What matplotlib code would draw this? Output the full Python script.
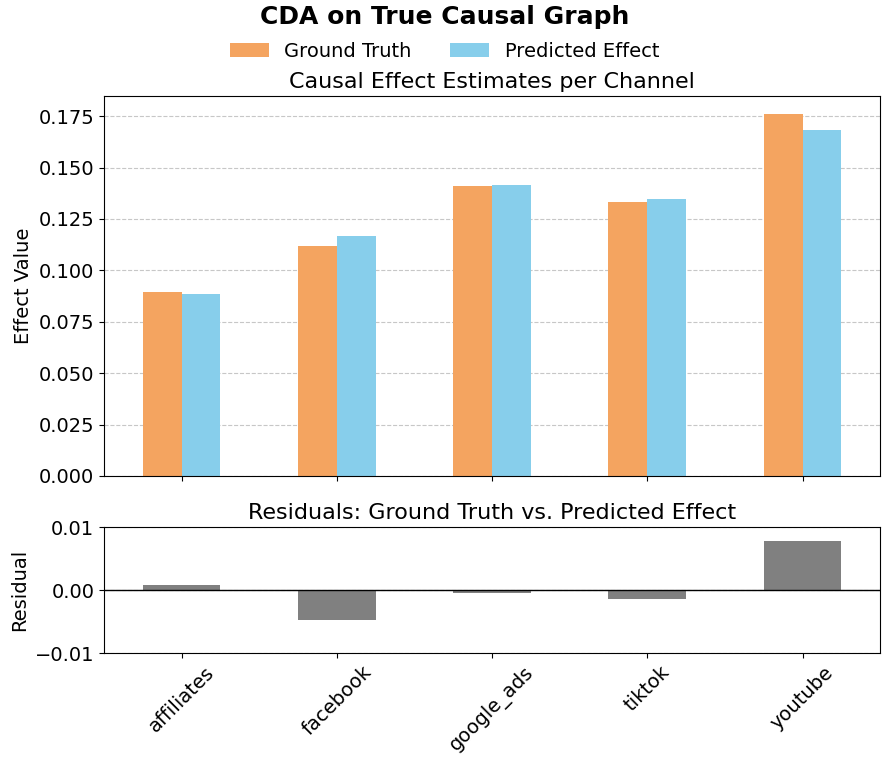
import matplotlib
matplotlib.use("Agg")
import matplotlib.pyplot as plt
import numpy as np

channels = ["affiliates", "facebook", "google_ads", "tiktok", "youtube"]
ground_truth = [0.0894, 0.1118, 0.1410, 0.1332, 0.1760]
predicted = [0.0886, 0.1165, 0.1414, 0.1346, 0.1682]
residuals = [g - p for g, p in zip(ground_truth, predicted)]

c_gt = "#F4A460"
c_pred = "#87CEEB"

fig = plt.figure(figsize=(8.89, 7.65), dpi=100)
ax1 = fig.add_axes([0.117, 0.3778, 0.873, 0.4967])
ax2 = fig.add_axes([0.117, 0.1464, 0.873, 0.1647], sharex=ax1)

x = np.arange(len(channels))
w = 0.25
b1 = ax1.bar(x - w / 2, ground_truth, w, color=c_gt, label="Ground Truth", zorder=2)
b2 = ax1.bar(x + w / 2, predicted, w, color=c_pred, label="Predicted Effect", zorder=2)
ax1.set_xlim(-0.5, len(channels) - 0.5)
ax1.set_ylim(0, max(ground_truth) * 1.05)
ax1.set_yticks(np.arange(0, 0.176, 0.025))
ax1.set_yticklabels([f"{v:.3f}" for v in np.arange(0, 0.176, 0.025)])
ax1.grid(axis="y", linestyle="--", alpha=0.7, zorder=0)
ax1.set_axisbelow(True)
ax1.set_ylabel("Effect Value", fontsize=14)
ax1.set_title("Causal Effect Estimates per Channel", fontsize=16)
ax1.tick_params(axis="both", labelsize=14)
ax1.tick_params(axis="x", labelbottom=False)

ax2.bar(x, residuals, 0.5, color="gray", zorder=2)
ax2.axhline(0, color="black", linewidth=1, zorder=3)
ax2.set_ylim(-0.01, 0.01)
ax2.set_yticks([-0.01, 0.0, 0.01])
ax2.set_yticklabels(["\u22120.01", "0.00", "0.01"])
ax2.grid(axis="y", linestyle="--", alpha=0.7, zorder=0)
ax2.set_axisbelow(True)
ax2.set_ylabel("Residual", fontsize=14)
ax2.set_title("Residuals: Ground Truth vs. Predicted Effect", fontsize=16)
ax2.set_xticks(x)
ax2.set_xticklabels(channels, rotation=45, fontsize=14)
ax2.tick_params(axis="y", labelsize=14)

fig.suptitle("CDA on True Causal Graph", fontsize=18, fontweight="bold", y=0.993)
fig.legend(handles=[b1, b2], labels=["Ground Truth", "Predicted Effect"],
           loc="center", bbox_to_anchor=(0.5, 0.933), ncol=2, frameon=False,
           fontsize=14, columnspacing=2.0)

fig.savefig("out.png", dpi=100)
